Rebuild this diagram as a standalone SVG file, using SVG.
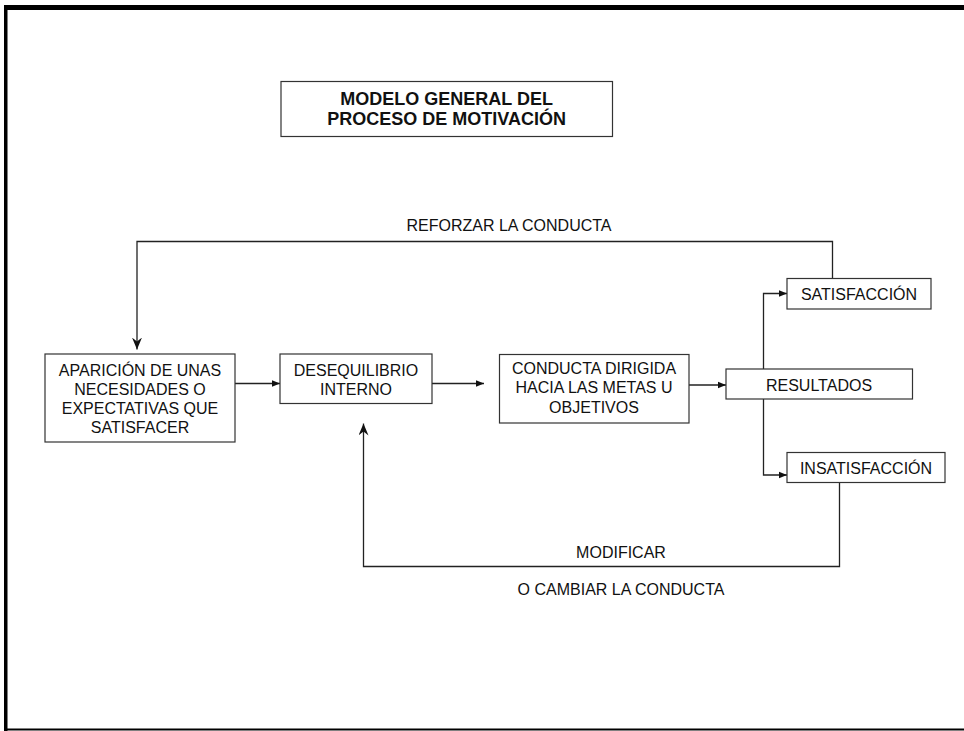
<svg xmlns="http://www.w3.org/2000/svg" width="964" height="731" viewBox="0 0 964 731">
<style>
  .box { fill: #ffffff; stroke: #333333; stroke-width: 1.2; }
  .t { font-family: "Liberation Sans", Arial, sans-serif; font-size: 16px; fill: #111111; text-anchor: middle; }
  .tb { font-family: "Liberation Sans", Arial, sans-serif; font-size: 18px; font-weight: bold; fill: #111111; text-anchor: middle; }
  .conn { fill: none; stroke: #222222; stroke-width: 1.3; }
</style>
<defs>
  <marker id="small" viewBox="0 0 8 8" refX="8" refY="4" markerWidth="8" markerHeight="8" markerUnits="userSpaceOnUse" orient="auto">
    <path d="M0,0.8 L8,4 L0,7.2 Z" fill="#111111"/>
  </marker>
  <marker id="big" viewBox="0 0 12 10" refX="12" refY="5" markerWidth="12" markerHeight="10" markerUnits="userSpaceOnUse" orient="auto">
    <path d="M0,0 L12,5 L0,10 L4,5 Z" fill="#111111"/>
  </marker>
</defs>
<rect width="964" height="731" fill="#ffffff"/>
<!-- frame -->
<g id="frame">
  <rect x="4" y="5" width="960" height="5" fill="#000000"/>
  <rect x="4" y="5" width="3.5" height="726" fill="#000000"/>
  <rect x="4" y="728.5" width="960" height="2" fill="#000000"/>
</g>

<g id="title">
  <rect class="box" x="281" y="81.5" width="331.5" height="55"/>
  <text class="tb" x="446.7" y="104.5">MODELO GENERAL DEL</text>
  <text class="tb" x="446.7" y="124.5">PROCESO DE MOTIVACIÓN</text>
</g>

<g id="connectors">
  <line class="conn" x1="235" y1="383.5" x2="280" y2="383.5" marker-end="url(#small)"/>
  <line class="conn" x1="432" y1="383.5" x2="484" y2="383.5" marker-end="url(#small)"/>
  <line class="conn" x1="689" y1="385" x2="726" y2="385" marker-end="url(#small)"/>
  <polyline class="conn" points="763.5,369 763.5,293.5 787,293.5" marker-end="url(#small)"/>
  <polyline class="conn" points="763.5,399 763.5,475 787,475" marker-end="url(#small)"/>
  <polyline class="conn" points="832.5,278.5 832.5,241.5 137,241.5 137,349.5" marker-end="url(#big)"/>
  <polyline class="conn" points="839.5,482.5 839.5,566.5 363.5,566.5 363.5,423.5" marker-end="url(#big)"/>
  <text class="t" x="509" y="230.5">REFORZAR LA CONDUCTA</text>
  <text class="t" x="621" y="557.5">MODIFICAR</text>
  <text class="t" x="621" y="595">O CAMBIAR LA CONDUCTA</text>
</g>

<g id="aparicion">
  <rect class="box" x="45" y="354" width="190" height="88"/>
  <text class="t" x="140" y="376">APARICIÓN DE UNAS</text>
  <text class="t" x="140" y="395">NECESIDADES O</text>
  <text class="t" x="140" y="413.5">EXPECTATIVAS QUE</text>
  <text class="t" x="140" y="432.5">SATISFACER</text>
</g>

<g id="desequilibrio">
  <rect class="box" x="280" y="354" width="152" height="49.5"/>
  <text class="t" x="356" y="376">DESEQUILIBRIO</text>
  <text class="t" x="356" y="395">INTERNO</text>
</g>

<g id="conducta">
  <rect class="box" x="499.5" y="354.5" width="189.5" height="68.5"/>
  <text class="t" x="594" y="374">CONDUCTA DIRIGIDA</text>
  <text class="t" x="594" y="393">HACIA LAS METAS U</text>
  <text class="t" x="594" y="412.5">OBJETIVOS</text>
</g>

<g id="resultados">
  <rect class="box" x="726" y="369" width="186.5" height="30"/>
  <text class="t" x="819" y="391">RESULTADOS</text>
</g>

<g id="satisfaccion">
  <rect class="box" x="787" y="278.5" width="144" height="30.5"/>
  <text class="t" x="859" y="300">SATISFACCIÓN</text>
</g>

<g id="insatisfaccion">
  <rect class="box" x="787" y="452.5" width="158" height="30"/>
  <text class="t" x="866" y="474">INSATISFACCIÓN</text>
</g>
</svg>
